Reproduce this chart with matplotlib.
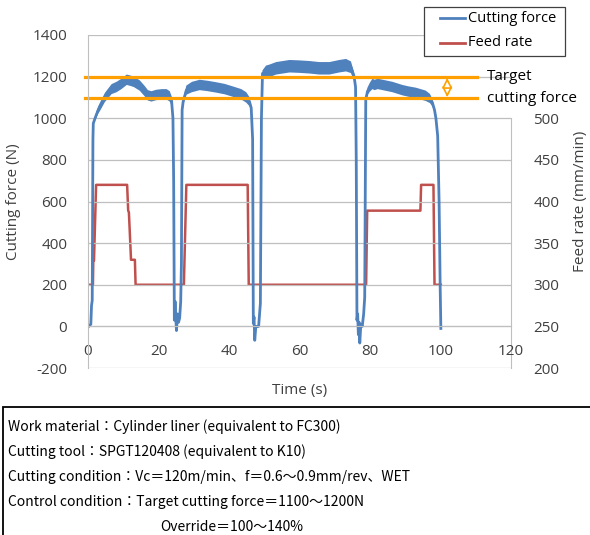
import matplotlib.pyplot as plt
from matplotlib.patches import Rectangle
from matplotlib.lines import Line2D

plt.rcParams['font.family'] = ['Open Sans', 'DejaVu Sans']
plt.rcParams['axes.unicode_minus'] = False

# cutting force (N), with the half width of the noisy band
t_force = [0.0, 0.4, 0.8, 1.0, 1.2, 1.4, 1.5, 2.0, 2.9, 3.4, 4.8, 6.7, 8.1, 9.5, 11.0, 11.9, 13.0,
           14.7, 16.1, 17.0, 18.0, 19.4, 21.0, 22.3, 23.2, 23.7, 24.1, 24.3,
           24.5, 24.7, 24.9, 25.1, 25.4, 25.7, 26.0, 26.3, 26.5,
           26.7, 27.0, 27.9, 29.5, 31.7, 34.0, 36.4, 38.8, 41.1, 43.5, 44.9, 45.8, 46.3, 46.7,
           46.9, 47.1, 47.3, 47.6, 47.9, 48.4, 48.9,
           49.2, 49.5, 50.5, 51.5, 53.4, 55.3, 57.2, 60.0, 62.8, 65.6, 68.5, 71.3, 73.2, 74.6,
           75.5, 75.9, 76.1,
           76.3, 76.5, 76.7, 76.9, 77.1, 77.4, 77.8, 78.2, 78.5,
           78.8, 79.3, 80.0, 80.7, 81.3, 82.2, 83.6, 86.4, 89.2, 91.0, 93.0, 95.8, 97.0, 97.7,
           98.3, 98.7, 99.2, 99.6, 99.9, 100.1]
force = [-5, 5, 10, 100, 125, 900, 975, 1000, 1040, 1055, 1100, 1140, 1150, 1165, 1185, 1181, 1175,
         1157, 1130, 1110, 1105, 1112, 1115, 1115, 1105, 1085, 1000, 700,
         30, 120, 40, -20, 60, 20, 40, 120, 300,
         1040, 1080, 1135, 1150, 1160, 1155, 1148, 1140, 1128, 1115, 1100, 1080, 1050, 900,
         14, 45, -67, -3, 0, 0, 110,
         1000, 1215, 1225, 1228, 1240, 1245, 1250, 1248, 1245, 1240, 1240, 1250, 1255, 1245,
         1200, 1150, 800,
         30, 60, -40, 20, -80, 10, 0, 60, 140,
         1090, 1130, 1150, 1165, 1160, 1165, 1160, 1150, 1135, 1128, 1122, 1108, 1095, 1075,
         1040, 1000, 915, 600, 200, -10]
force_spread = [0, 0, 0, 0, 0, 0, 5, 12, 18, 20, 22, 24, 25, 25, 25, 25, 25,
                25, 25, 25, 25, 25, 25, 25, 25, 22, 10, 0,
                0, 0, 0, 0, 0, 0, 0, 0, 0,
                5, 15, 22, 25, 25, 25, 25, 25, 25, 25, 25, 22, 12, 0,
                0, 0, 0, 0, 0, 0, 0,
                0, 15, 28, 30, 30, 30, 30, 30, 30, 30, 30, 30, 30, 28,
                20, 10, 0,
                0, 0, 0, 0, 0, 0, 0, 0, 0,
                5, 18, 22, 25, 25, 25, 25, 25, 25, 25, 25, 25, 22, 18,
                12, 8, 0, 0, 0, 0]

# feed rate (mm/min)
t_feed = [0.0, 1.4, 1.5, 1.7, 2.3, 11.1, 11.4, 11.6, 11.9, 12.2, 13.3, 13.5,
          27.2, 27.9, 45.3, 45.6, 78.9, 79.2, 94.3, 94.5, 98.0, 98.3, 100.1]
feed = [300, 300, 329, 329, 420, 420, 389, 387, 359, 330, 330, 300,
        300, 420, 420, 300, 300, 389, 389, 420, 420, 300, 300]

target_low = 1095
target_high = 1200
notes = ['Work material：Cylinder liner (equivalent to FC300)',
         'Cutting tool：SPGT120408 (equivalent to K10)',
         'Cutting condition：Vc＝120m/min、f＝0.6～0.9mm/rev、WET',
         'Control condition：Target cutting force＝1100～1200N',
         'Override＝100～140%']

blue = '#4F81BD'
red = '#C0504D'
orange = '#FFA000'
grey = '#BFBFBF'
txt = '#404040'

W, H = 590, 535
fig = plt.figure(figsize=(W / 100, H / 100), dpi=100)
ax = fig.add_axes([88 / W, 1 - 368 / H, 423 / W, 333 / H])
ax2 = ax.twinx()
ax.set_zorder(ax2.get_zorder() + 1)
ax.patch.set_visible(False)

ax.set_xlim(0, 120)
ax.set_ylim(-200, 1400)
ax2.set_ylim(200, 600)
ax.set_xticks(range(0, 121, 20))
ax.set_yticks(range(-200, 1401, 200))
ax2.set_yticks(range(200, 501, 50))
ax.grid(axis='y', color=grey, lw=0.9)
ax.set_axisbelow(True)

for s in ['top', 'right']:
    ax.spines[s].set_visible(False)
for s in ['top', 'left', 'bottom']:
    ax2.spines[s].set_visible(False)
ax.spines['left'].set_color(grey)
ax.spines['bottom'].set_color(grey)
ax.spines['bottom'].set_position(('data', 0))
ax2.spines['right'].set_color(grey)
ax2.spines['right'].set_bounds(200, 500)

ax.tick_params(axis='both', length=0, labelsize=11, colors=txt)
ax.tick_params(axis='y', pad=15)
ax.tick_params(axis='x', pad=13)
ax2.tick_params(axis='y', length=0, labelsize=11, colors=txt, pad=16)

ax.set_xlabel('Time (s)', fontsize=11, color=txt)
ax.xaxis.set_label_coords(0.5, -0.045)
ax.set_ylabel('Cutting force (N)', fontsize=11, color=txt)
ax.yaxis.set_label_coords(-0.158, 0.5)
ax2.set_ylabel('Feed rate (mm/min)', fontsize=11, color=txt)
ax2.yaxis.set_label_coords(1.147, 0.5)

ax2.plot(t_feed, feed, color=red, lw=1.8)
lo = [f - s for f, s in zip(force, force_spread)]
hi = [f + s for f, s in zip(force, force_spread)]
ax.fill_between(t_force, lo, hi, facecolor=blue, edgecolor='none')
ax.plot(t_force, force, color=blue, lw=2)

for y in [target_high, target_low]:
    ax.plot([-0.8, 110.4], [y, y], color=orange, lw=2.3, clip_on=False)
ax.annotate('', xy=(101.9, target_high - 6), xytext=(101.9, target_low + 6),
            arrowprops=dict(arrowstyle='<|-|>', fc='white', ec=orange, lw=1.2,
                            mutation_scale=15, shrinkA=0, shrinkB=0))
ax.text(113.2, target_high, 'Target', fontsize=11, color='black', va='center', clip_on=False)
ax.text(113.2, target_low, 'cutting force', fontsize=11, color='black', va='center', clip_on=False)

# legend box
fig.patches.append(Rectangle((424 / W, 1 - 56 / H), 141 / W, 49 / H, transform=fig.transFigure,
                             fc='white', ec='#404040', lw=0.9))
for yy, c, lab in [(18, blue, 'Cutting force'), (43, red, 'Feed rate')]:
    fig.add_artist(Line2D([440 / W, 465 / W], [1 - yy / H, 1 - yy / H], color=c, lw=2))
    fig.text(468 / W, 1 - yy / H, lab, fontsize=10.5, va='center', color='black')

# condition box
fig.patches.append(Rectangle((3 / W, -0.1), 1.2, 0.1 + (H - 407) / H, transform=fig.transFigure,
                             fc='none', ec='black', lw=1.3))
cjk = ['Noto Sans CJK JP', 'DejaVu Sans']
for i, line in enumerate(notes):
    x = 160 if i == 4 else 8
    fig.text(x / W, 1 - (427 + 25 * i) / H, line, family=cjk, fontsize=10, va='center')

fig.savefig('out.png', dpi=100)
